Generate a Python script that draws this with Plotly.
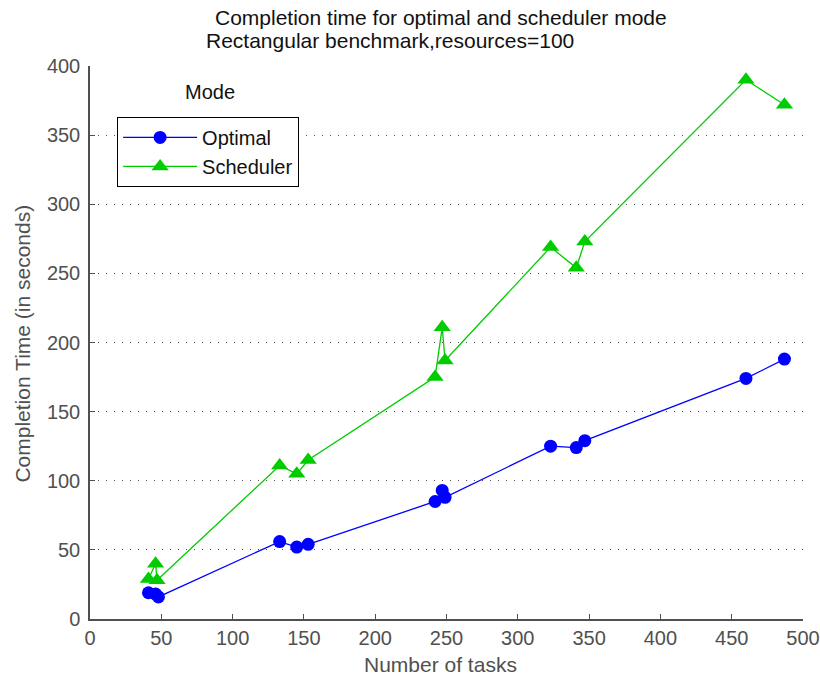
import plotly.graph_objects as go

tasks_opt = [41, 46, 48, 133, 145, 153, 242, 247, 249, 323, 341, 347, 460, 487]
time_opt = [19, 18, 16, 56, 52, 54, 85, 93, 88, 125, 124, 129, 174, 188]

tasks_sch = [41, 46, 47, 133, 145, 153, 242, 247, 249, 323, 341, 347, 460, 487]
time_sch = [29, 40, 28, 111, 105, 115, 175, 211, 187, 269, 254, 273, 390, 372]

x_ticks = list(range(0, 501, 50))
y_ticks = list(range(0, 401, 50))

FONT = "Liberation Sans, Arial, sans-serif"
AX = "#505050"

fig = go.Figure()
fig.add_trace(go.Scatter(x=tasks_opt, y=time_opt, mode="lines+markers", name="Optimal",
                         line=dict(color="#0000FF", width=1.3),
                         marker=dict(symbol="circle", size=13, color="#0000FF")))
fig.add_trace(go.Scatter(x=tasks_sch, y=time_sch, mode="lines+markers", name="Scheduler",
                         line=dict(color="#00CC00", width=1.3),
                         marker=dict(symbol="triangle-up", size=15, color="#00CC00")))

fig.update_layout(
    width=820, height=678,
    margin=dict(l=90, r=17, t=66, b=59, autoexpand=False),
    paper_bgcolor="white", plot_bgcolor="white",
    font=dict(family=FONT, size=20, color=AX),
    showlegend=True,
    legend=dict(x=0.038, y=0.908, xanchor="left", yanchor="top",
                bordercolor="black", borderwidth=1, bgcolor="white",
                font=dict(family=FONT, size=20, color="#111111"),
                itemwidth=74, tracegroupgap=0),
    xaxis=dict(range=[0, 500], tickvals=x_ticks, ticks="inside", ticklen=5,
               tickcolor=AX, showline=True, linecolor=AX, linewidth=1.5,
               showgrid=False, zeroline=False, mirror=False, automargin=False,
               tickfont=dict(family=FONT, size=20, color=AX)),
    yaxis=dict(range=[0, 400], tickvals=y_ticks, ticks="inside", ticklen=5,
               tickcolor=AX, showline=True, linecolor=AX, linewidth=1.5,
               showgrid=True, gridcolor="#505050", gridwidth=1.3, griddash="1.3px,6.7px",
               zeroline=False, mirror=False, ticklabelstandoff=4, automargin=False,
               tickfont=dict(family=FONT, size=20, color=AX)),
    annotations=[
        dict(text="Completion time for optimal and scheduler mode", xref="paper", yref="paper",
             x=0.492, y=1.088, xanchor="center", yanchor="middle", showarrow=False,
             font=dict(family=FONT, size=21, color="#111111")),
        dict(text="Rectangular benchmark,resources=100", xref="paper", yref="paper",
             x=0.421, y=1.046, xanchor="center", yanchor="middle", showarrow=False,
             font=dict(family=FONT, size=21, color="#111111")),
        dict(text="Number of tasks", xref="paper", yref="paper",
             x=0.492, y=-0.083, xanchor="center", yanchor="middle", showarrow=False,
             font=dict(family=FONT, size=21, color=AX)),
        dict(text="Completion Time (in seconds)", xref="paper", yref="paper",
             x=-0.094, y=0.498, xanchor="center", yanchor="middle", showarrow=False,
             textangle=-90, font=dict(family=FONT, size=21, color=AX)),
        dict(text="Mode", xref="paper", yref="paper",
             x=0.169, y=0.953, xanchor="center", yanchor="middle", showarrow=False,
             font=dict(family=FONT, size=20, color="#111111")),
    ],
)

fig.write_html("out.html")
